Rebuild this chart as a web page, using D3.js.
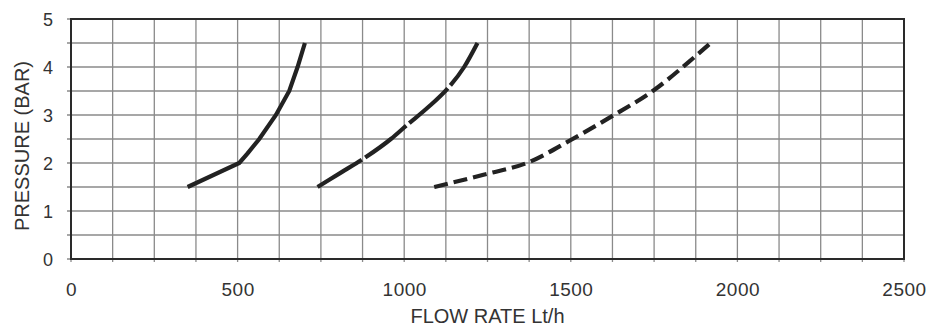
<!DOCTYPE html>
<html>
<head>
<meta charset="utf-8">
<script src="https://cdn.jsdelivr.net/npm/d3@7"></script>
<style>
  html, body { margin: 0; padding: 0; background: #fff; }
  svg { display: block; }
  text { font-family: "Liberation Sans", Arial, sans-serif; fill: #333; }
</style>
</head>
<body>
<svg id="chart" width="930" height="327"></svg>
<script>
// Pressure vs flow rate curves (flow in Lt/h, pressure in bar)
const curveA = [[350,1.5],[505,2],[530,2.2],[565,2.5],[615,3],[655,3.5],[680,4],[702,4.5]];
const curveB = [[740,1.5],[810,1.8],[880,2.1],[960,2.5],[1010,2.8],[1070,3.15],[1130,3.55],[1180,4],[1220,4.5]];
const curveC = [[1090,1.5],[1235,1.75],[1375,2.02],[1500,2.48],[1620,2.96],[1750,3.52],[1870,4.2],[1920,4.5]];

const xTicks = [0, 500, 1000, 1500, 2000, 2500];
const yTicks = [0, 1, 2, 3, 4, 5];
const xGrid = d3.range(0, 2501, 125);
const yGrid = d3.range(0, 5.01, 0.5);

const svg = d3.select("#chart");
const plotLeft = 71, plotRight = 904, plotTop = 19, plotBottom = 259;

const x = d3.scaleLinear().domain([0, 2500]).range([plotLeft, plotRight]);
const y = d3.scaleLinear().domain([0, 5]).range([plotBottom, plotTop]);

// grid
const grid = svg.append("g").attr("stroke", "#8a8a8a").attr("stroke-width", 1.3);
grid.selectAll("line.v").data(xGrid).join("line").attr("class", "v")
  .attr("x1", d => x(d)).attr("x2", d => x(d))
  .attr("y1", plotTop).attr("y2", plotBottom + 3);
grid.selectAll("line.h").data(yGrid).join("line").attr("class", "h")
  .attr("y1", d => y(d)).attr("y2", d => y(d))
  .attr("x1", plotLeft - 4).attr("x2", plotRight);

// frame
svg.append("rect")
  .attr("x", plotLeft).attr("y", plotTop)
  .attr("width", plotRight - plotLeft).attr("height", plotBottom - plotTop)
  .attr("fill", "none").attr("stroke", "#2a2a2a").attr("stroke-width", 2);

// axes (labels only)
const xAxis = svg.append("g").attr("transform", `translate(0,${plotBottom})`)
  .call(d3.axisBottom(x).tickValues(xTicks).tickFormat(d3.format("d")).tickSize(0).tickPadding(0));
xAxis.select(".domain").remove();
xAxis.selectAll("text")
  .attr("y", 37).attr("dy", null)
  .style("font-size", "19px").style("letter-spacing", "0.5px").attr("fill", "#333");

const yAxis = svg.append("g").attr("transform", `translate(${plotLeft},0)`)
  .call(d3.axisLeft(y).tickValues(yTicks).tickFormat(d3.format("d")).tickSize(0).tickPadding(0));
yAxis.select(".domain").remove();
yAxis.selectAll("text")
  .attr("x", -18).attr("dy", "0.36em")
  .style("font-size", "18px").attr("fill", "#333");

// axis titles
svg.append("text")
  .attr("x", (plotLeft + plotRight) / 2).attr("y", 323)
  .attr("text-anchor", "middle")
  .style("font-size", "20px")
  .text("FLOW RATE Lt/h");

svg.append("text")
  .attr("transform", `translate(29,146) rotate(-90)`)
  .attr("text-anchor", "middle")
  .style("font-size", "20px")
  .text("PRESSURE (BAR)");

// curves
const line = d3.line().x(d => x(d[0])).y(d => y(d[1]));
const series = [
  { data: curveA, dash: null, curve: d3.curveLinear },
  { data: curveB, dash: "52,4", curve: d3.curveMonotoneX },
  { data: curveC, dash: "14,6", curve: d3.curveMonotoneX }
];
svg.append("g").selectAll("path").data(series).join("path")
  .attr("d", s => line.curve(s.curve)(s.data))
  .attr("fill", "none")
  .attr("stroke", "#222")
  .attr("stroke-width", 4.2)
  .attr("stroke-dasharray", s => s.dash);
</script>
</body>
</html>
